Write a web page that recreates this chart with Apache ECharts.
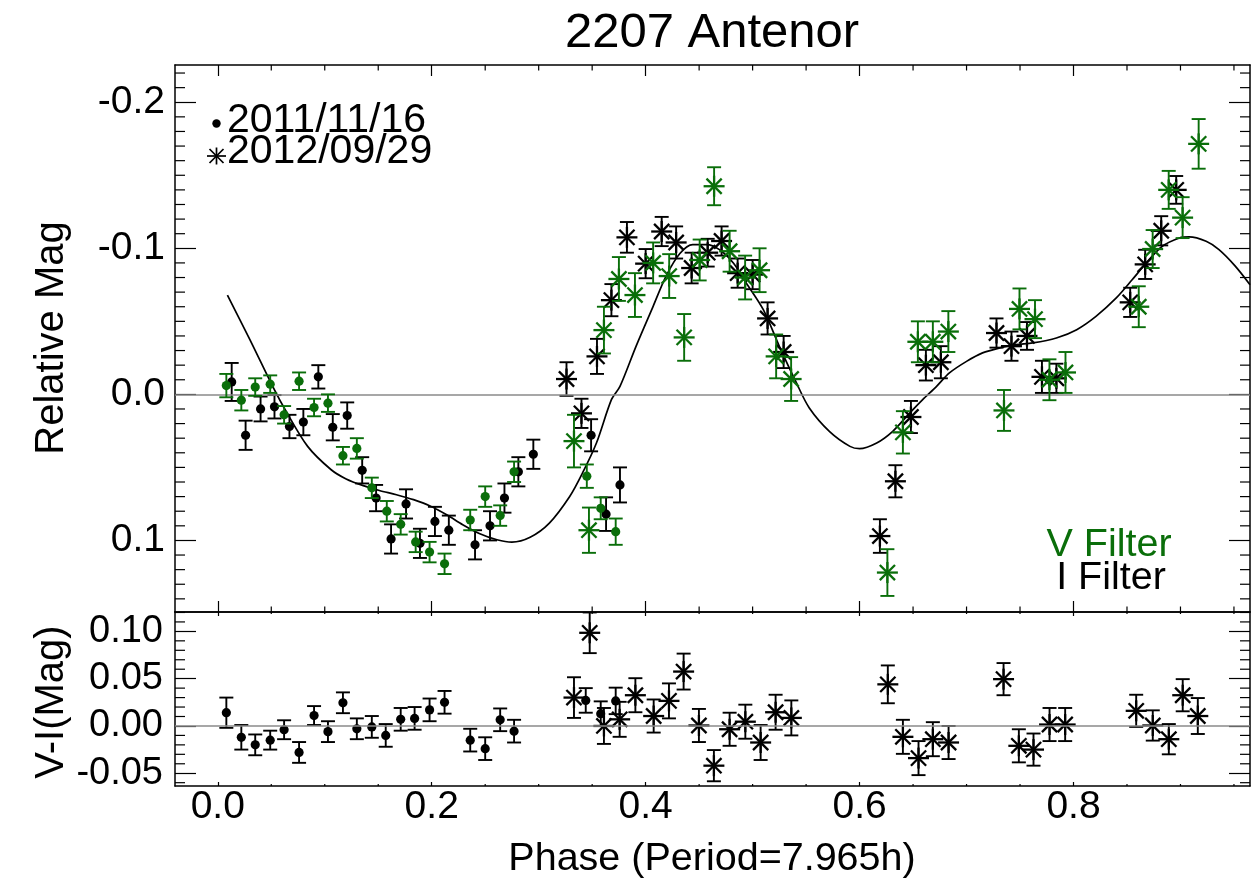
<!DOCTYPE html>
<html><head><meta charset="utf-8">
<script src="https://cdn.jsdelivr.net/npm/echarts@6/dist/echarts.min.js"></script>
<style>html,body{margin:0;padding:0;background:#fff}#c{width:1253px;height:888px}</style>
</head><body><div id="c"></div>
<script>
// ---------------- DATA ----------------
// [phase, relative mag, error]
const vDots2011 = [
  [0.008,-0.006,0.008],[0.022,0.004,0.007],[0.035,-0.005,0.006],[0.049,-0.007,0.006],
  [0.062,0.014,0.006],[0.076,-0.009,0.006],[0.090,0.009,0.006],[0.103,0.006,0.006],
  [0.117,0.042,0.006],[0.130,0.037,0.007],[0.144,0.064,0.007],[0.158,0.080,0.007],
  [0.171,0.089,0.007],[0.185,0.101,0.007],[0.198,0.108,0.007],[0.212,0.116,0.007],
  [0.236,0.086,0.007],[0.250,0.070,0.007],[0.264,0.083,0.007],[0.277,0.053,0.007],
  [0.345,0.056,0.008],[0.358,0.078,0.0075],[0.372,0.094,0.009]
];
const iDots2011 = [
  [0.013,-0.0085,0.013],[0.026,0.028,0.010],[0.040,0.010,0.0085],[0.053,0.0085,0.008],
  [0.067,0.022,0.008],[0.080,0.019,0.009],[0.094,-0.012,0.008],[0.1075,0.0225,0.009],
  [0.121,0.0145,0.009],[0.135,0.052,0.009],[0.148,0.071,0.009],[0.162,0.099,0.010],
  [0.176,0.075,0.010],[0.189,0.102,0.010],[0.203,0.087,0.010],[0.216,0.093,0.010],
  [0.2405,0.103,0.010],[0.2545,0.090,0.010],[0.268,0.071,0.010],[0.281,0.053,0.010],
  [0.295,0.041,0.010],[0.349,0.028,0.011],[0.363,0.082,0.0115],[0.376,0.062,0.012]
];
const vStars2012 = [
  [0.333,0.032,0.018],[0.347,0.093,0.0155],[0.361,-0.044,0.016],[0.375,-0.079,0.015],
  [0.390,-0.068,0.015],[0.407,-0.090,0.014],[0.422,-0.081,0.015],[0.436,-0.039,0.016],
  [0.4505,-0.092,0.014],[0.464,-0.1425,0.013],[0.4785,-0.098,0.014],[0.493,-0.080,0.015],
  [0.5065,-0.085,0.015],[0.522,-0.026,0.015],[0.536,-0.0105,0.015],[0.626,0.122,0.016],
  [0.6405,0.026,0.0145],[0.6545,-0.036,0.014],[0.6685,-0.036,0.014],[0.683,-0.043,0.014],
  [0.735,0.011,0.014],[0.7495,-0.0585,0.014],[0.764,-0.0515,0.013],[0.7775,-0.010,0.014],
  [0.7925,-0.015,0.014],[0.861,-0.060,0.014],[0.874,-0.0995,0.013],[0.889,-0.140,0.013],
  [0.902,-0.121,0.014],[0.917,-0.1715,0.017]
];
const iStars2012 = [
  [0.326,-0.0105,0.0115],[0.340,0.013,0.010],[0.3545,-0.026,0.012],[0.368,-0.0645,0.011],
  [0.3825,-0.1075,0.0105],[0.400,-0.0895,0.010],[0.415,-0.1115,0.010],[0.4285,-0.104,0.011],
  [0.443,-0.0865,0.0105],[0.458,-0.097,0.0095],[0.471,-0.105,0.010],[0.486,-0.083,0.010],
  [0.500,-0.082,0.010],[0.514,-0.052,0.011],[0.529,-0.029,0.011],[0.619,0.097,0.0115],
  [0.6335,0.0595,0.011],[0.648,0.0155,0.011],[0.662,-0.020,0.0105],[0.676,-0.022,0.011],
  [0.728,-0.042,0.010],[0.742,-0.033,0.010],[0.7565,-0.040,0.0095],[0.7705,-0.012,0.011],
  [0.784,-0.011,0.010],[0.853,-0.063,0.010],[0.867,-0.089,0.010],[0.882,-0.112,0.010],
  [0.896,-0.140,0.0095]
];
// [phase, V-I, error]
const viDots2011 = [
  [0.008,0.014,0.016],[0.022,-0.012,0.013],[0.035,-0.020,0.011],[0.049,-0.015,0.010],
  [0.062,-0.004,0.010],[0.076,-0.028,0.011],[0.090,0.011,0.010],[0.103,-0.006,0.011],
  [0.117,0.0245,0.011],[0.130,-0.003,0.011],[0.144,-0.001,0.0115],[0.157,-0.010,0.012],
  [0.171,0.007,0.012],[0.184,0.008,0.012],[0.198,0.017,0.012],[0.212,0.025,0.012],
  [0.236,-0.015,0.012],[0.250,-0.024,0.012],[0.264,0.0065,0.012],[0.277,-0.0055,0.012],
  [0.344,0.027,0.013],[0.358,0.013,0.013],[0.372,0.0265,0.014]
];
const viStars2012 = [
  [0.333,0.030,0.0215],[0.3477,0.0985,0.0215],[0.361,0.000,0.019],[0.3757,0.007,0.0185],
  [0.3904,0.0325,0.018],[0.4075,0.0105,0.0175],[0.4218,0.0265,0.0185],[0.4355,0.0575,0.019],
  [0.4498,0.0005,0.0175],[0.4638,-0.042,0.0165],[0.4785,-0.0035,0.0175],[0.4932,0.0045,0.018],
  [0.5075,-0.0175,0.0185],[0.5215,0.0145,0.0185],[0.5362,0.0085,0.0185],[0.6264,0.044,0.020],
  [0.6405,-0.0115,0.018],[0.6551,-0.034,0.018],[0.6685,-0.014,0.018],[0.6832,-0.0175,0.0175],
  [0.7346,0.0495,0.017],[0.7489,-0.021,0.0175],[0.7626,-0.025,0.017],[0.7776,0.0015,0.0175],
  [0.7922,0.0015,0.0175],[0.8586,0.016,0.017],[0.8741,0.0005,0.016],[0.8891,-0.014,0.016],
  [0.9021,0.0325,0.017],[0.9162,0.0105,0.019]
];
// Fourier fit curve
const fitPhase = [0.009,0.030,0.053,0.063,0.084,0.106,0.120,0.136,0.151,0.167,0.183,0.198,0.214,0.229,0.245,0.261,0.275,0.292,0.310,0.329,0.341,0.354,0.368,0.376,0.391,0.407,0.419,0.432,0.444,0.457,0.469,0.482,0.494,0.510,0.525,0.541,0.553,0.572,0.591,0.600,0.616,0.631,0.647,0.659,0.672,0.684,0.700,0.715,0.731,0.746,0.762,0.784,0.803,0.821,0.840,0.855,0.868,0.883,0.899,0.908,0.924,0.936,0.951,0.965];
const fitMag   = [-0.068,-0.0375,-0.003,0.0105,0.0356,0.0516,0.0579,0.0625,0.0658,0.0687,0.0721,0.0762,0.0824,0.0892,0.0954,0.0995,0.1011,0.0978,0.0881,0.0699,0.0538,0.0333,0.0036,-0.0055,-0.0329,-0.0603,-0.0808,-0.0964,-0.1025,-0.1025,-0.0991,-0.0900,-0.0763,-0.0580,-0.0329,-0.0078,0.0093,0.0255,0.0356,0.0372,0.0333,0.0253,0.0127,0.0036,-0.0055,-0.0147,-0.0226,-0.0284,-0.0318,-0.0340,-0.0352,-0.0386,-0.0443,-0.0534,-0.0660,-0.0786,-0.0900,-0.1014,-0.1071,-0.1078,-0.1048,-0.0991,-0.088,-0.0751];

// ticks & labels
const xMajorTicks = [0.0,0.2,0.4,0.6,0.8];
const xTickLabels = ['0.0','0.2','0.4','0.6','0.8'];
const xMinorTicks = [0.05,0.1,0.15,0.25,0.3,0.35,0.45,0.5,0.55,0.65,0.7,0.75,0.85,0.9,0.95];
const magMajorTicks = [-0.2,-0.1,0.0,0.1];
const magTickLabels = ['-0.2','-0.1','0.0','0.1'];
const viMajorTicks = [-0.05,0.0,0.05,0.10];
const viTickLabels = ['-0.05','0.00','0.05','0.10'];
const magMinorTicks = []; for (let k=-22;k<=14;k++){ if (k%10!==0) magMinorTicks.push(k/100); }
const viMinorTicks = []; for (let k=-6;k<=12;k++){ if (k%5!==0) viMinorTicks.push(k/100); }

// ---------------- CHART ----------------
const FONT = "'Liberation Sans', Arial, Helvetica, sans-serif";
const GREEN = '#0a6e0a';
const X_MIN=-0.04, X_MAX=0.965;
const Y1_MIN=-0.2255, Y1_MAX=0.149;
const Y2_MIN=-0.0635, Y2_MAX=0.1205;

function labelFor(ticks, labels){ return v => { const i = ticks.findIndex(t=>Math.abs(t-v)<1e-9); return i>=0?labels[i]:''; }; }

function xAx(grid,pos,tickLen,withLabels){
  return {type:'value',gridIndex:grid,position:pos,min:X_MIN,max:X_MAX,
    axisLine:{show:true,onZero:false,lineStyle:{color:'#000',width:1.5}},
    axisTick:{show:true,inside:true,length:tickLen,customValues:xMajorTicks,lineStyle:{color:'#000',width:1.2}},
    axisLabel: withLabels?{show:true,customValues:xMajorTicks,formatter:labelFor(xMajorTicks,xTickLabels),
      fontSize:39,fontFamily:FONT,color:'#000',margin:2}:{show:false},
    splitLine:{show:false}};
}
function yAx(grid,pos,min,max,inv,ticks,labels,withLabels,fs,margin){
  return {type:'value',gridIndex:grid,position:pos,min:min,max:max,inverse:inv,
    axisLine:{show:true,onZero:false,lineStyle:{color:'#000',width:1.5}},
    axisTick:{show:true,inside:true,length:21,customValues:ticks,lineStyle:{color:'#000',width:1.2}},
    axisLabel: withLabels?{show:true,customValues:ticks,formatter:labelFor(ticks,labels),
      fontSize:fs,fontFamily:FONT,color:'#000',margin:margin}:{show:false},
    splitLine:{show:false}};
}

function errRender(color, marker){
  return function(params, api){
    const x=api.value(0), y=api.value(1), e=api.value(2);
    const p=api.coord([x,y]), a=api.coord([x,y-e]), b=api.coord([x,y+e]);
    const cw=7, st={stroke:color,lineWidth:1.9};
    const ch=[
      {type:'line',shape:{x1:p[0],y1:a[1],x2:p[0],y2:b[1]},style:st},
      {type:'line',shape:{x1:p[0]-cw,y1:a[1],x2:p[0]+cw,y2:a[1]},style:st},
      {type:'line',shape:{x1:p[0]-cw,y1:b[1],x2:p[0]+cw,y2:b[1]},style:st}
    ];
    if (marker==='dot'){
      ch.push({type:'circle',shape:{cx:p[0],cy:p[1],r:4.6},style:{fill:color}});
    } else {
      const h=10.5, d=7.6, s2={stroke:color,lineWidth:2.3};
      ch.push({type:'line',shape:{x1:p[0]-h,y1:p[1],x2:p[0]+h,y2:p[1]},style:s2});
      ch.push({type:'line',shape:{x1:p[0],y1:p[1]-h,x2:p[0],y2:p[1]+h},style:s2});
      ch.push({type:'line',shape:{x1:p[0]-d,y1:p[1]-d,x2:p[0]+d,y2:p[1]+d},style:s2});
      ch.push({type:'line',shape:{x1:p[0]-d,y1:p[1]+d,x2:p[0]+d,y2:p[1]-d},style:s2});
    }
    return {type:'group',children:ch};
  };
}
function errSeries(name,data,xi,yi,color,marker,z){
  return {name:name,type:'custom',xAxisIndex:xi,yAxisIndex:yi,data:data,renderItem:errRender(color,marker),
    clip:true,z:z,silent:true};
}
function minorTicks(dir,values,xi,yi,len,refOther){
  return {type:'custom',xAxisIndex:xi,yAxisIndex:yi,silent:true,clip:false,z:6,
    data: values.map(v=> dir==='x'?[v,refOther]:[refOther,v]),
    renderItem:function(params,api){
      const cs=params.coordSys, st={stroke:'#000',lineWidth:1.2};
      if (dir==='x'){
        const px=api.coord([api.value(0),refOther])[0];
        return {type:'group',children:[
          {type:'line',shape:{x1:px,y1:cs.y+cs.height,x2:px,y2:cs.y+cs.height-len},style:st},
          {type:'line',shape:{x1:px,y1:cs.y,x2:px,y2:cs.y+len},style:st}]};
      } else {
        const py=api.coord([refOther,api.value(1)])[1];
        return {type:'group',children:[
          {type:'line',shape:{x1:cs.x,y1:py,x2:cs.x+len,y2:py},style:st},
          {type:'line',shape:{x1:cs.x+cs.width,y1:py,x2:cs.x+cs.width-len,y2:py},style:st}]};
      }
    }};
}

const zeroLine = {silent:true,symbol:['none','none'],label:{show:false},
  lineStyle:{color:'#8a8a8a',type:'solid',width:1.6},data:[{yAxis:0}]};

function txt(s,x,y,size,color,align,rot){
  const o={type:'text',x:x,y:y,style:{text:s,font:size+'px '+FONT,fill:color,align:align,verticalAlign:'middle',
    textAlign:align,textVerticalAlign:'middle'}};
  if (rot) o.rotation=rot;
  return o;
}

const option = {
  animation:false,
  backgroundColor:'#fff',
  grid:[
    {left:175,top:65,width:1075,height:547,containLabel:false},
    {left:175,top:612,width:1075,height:174,containLabel:false}
  ],
  xAxis:[ xAx(0,'bottom',11,false), xAx(0,'top',11,false), xAx(1,'bottom',4,true), xAx(1,'top',4,false) ],
  yAxis:[
    yAx(0,'left',Y1_MIN,Y1_MAX,true,magMajorTicks,magTickLabels,true,39,10),
    yAx(0,'right',Y1_MIN,Y1_MAX,true,magMajorTicks,magTickLabels,false),
    yAx(1,'left',Y2_MIN,Y2_MAX,false,viMajorTicks,viTickLabels,true,38,12),
    yAx(1,'right',Y2_MIN,Y2_MAX,false,viMajorTicks,viTickLabels,false)
  ],
  series:[
    {name:'fit',type:'line',xAxisIndex:0,yAxisIndex:0,data:fitPhase.map((p,i)=>[p,fitMag[i]]),
      showSymbol:false,symbol:'none',smooth:0.3,lineStyle:{color:'#000',width:1.7},z:2,silent:true,
      markLine:zeroLine},
    {name:'zero2',type:'line',xAxisIndex:2,yAxisIndex:2,data:[],markLine:zeroLine,z:2},
    minorTicks('x',xMinorTicks,0,0,5.5,0),
    minorTicks('y',magMinorTicks,0,0,10,0.5),
    minorTicks('x',xMinorTicks,2,2,2,0),
    minorTicks('y',viMinorTicks,2,2,10,0.5),
    errSeries('I 2011',iDots2011,0,0,'#000','dot',4),
    errSeries('V 2011',vDots2011,0,0,GREEN,'dot',5),
    errSeries('I 2012',iStars2012,0,0,'#000','star',4),
    errSeries('V 2012',vStars2012,0,0,GREEN,'star',5),
    errSeries('V-I 2011',viDots2011,2,2,'#000','dot',4),
    errSeries('V-I 2012',viStars2012,2,2,'#000','star',4)
  ],
  graphic:[
    txt('2207 Antenor',712,33,49,'#000','center'),
    txt('Relative Mag',52,338,40,'#000','center',Math.PI/2),
    txt('V-I(Mag)',52,702,40,'#000','center',Math.PI/2),
    txt('Phase (Period=7.965h)',712,859,39.5,'#000','center'),
    txt('2011/11/16',227,121,41,'#000','left'),
    txt('2012/09/29',227,152,41,'#000','left'),
    {type:'circle',shape:{cx:216.5,cy:123.5,r:4.2},style:{fill:'#000'}},
    {type:'line',shape:{x1:207,y1:156,x2:226,y2:156},style:{stroke:'#000',lineWidth:1.7}},
    {type:'line',shape:{x1:216.5,y1:147.5,x2:216.5,y2:164.5},style:{stroke:'#000',lineWidth:1.7}},
    {type:'line',shape:{x1:209.5,y1:149,x2:223.5,y2:163},style:{stroke:'#000',lineWidth:1.7}},
    {type:'line',shape:{x1:209.5,y1:163,x2:223.5,y2:149},style:{stroke:'#000',lineWidth:1.7}},
    txt('V Filter',1109,545,39.5,GREEN,'center'),
    txt('I Filter',1111,578,39.5,'#000','center')
  ]
};
const chart = echarts.init(document.getElementById('c'));
chart.setOption(option);
</script></body></html>
